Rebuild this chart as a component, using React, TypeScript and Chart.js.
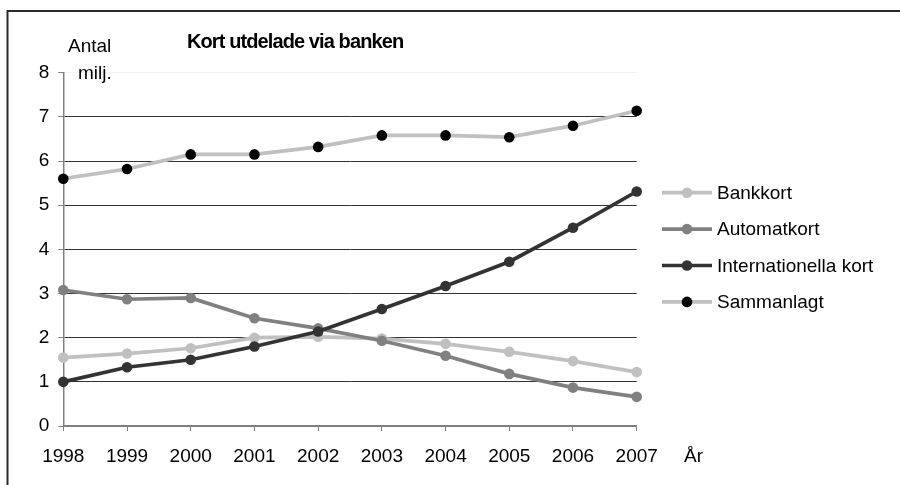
import React, { useEffect, useRef } from "react";
import { Chart, registerables } from "chart.js";

Chart.register(...registerables);

const years = ["1998", "1999", "2000", "2001", "2002", "2003", "2004", "2005", "2006", "2007"];
const bankkort = [1.55, 1.64, 1.76, 2.0, 2.02, 1.98, 1.86, 1.68, 1.47, 1.22];
const automatkort = [3.08, 2.87, 2.9, 2.44, 2.21, 1.93, 1.59, 1.18, 0.87, 0.66];
const internationella = [1.0, 1.33, 1.5, 1.8, 2.14, 2.65, 3.17, 3.72, 4.49, 5.31];
const sammanlagt = [5.6, 5.82, 6.15, 6.15, 6.32, 6.58, 6.58, 6.54, 6.8, 7.14];
const seriesNames = ["Bankkort", "Automatkort", "Internationella kort", "Sammanlagt"];
const yMin = 0;
const yMax = 8;
const yStep = 1;

const FONT = '"Liberation Sans", Arial, Helvetica, sans-serif';

const decorPlugin = {
  id: "decor",
  afterDraw(chart: any) {
    const ctx = chart.ctx as CanvasRenderingContext2D;
    ctx.save();
    // frame
    ctx.strokeStyle = "#2a2a2a";
    ctx.lineWidth = 2;
    ctx.beginPath();
    ctx.moveTo(7.5, 485);
    ctx.lineTo(7.5, 11);
    ctx.lineTo(900, 11);
    ctx.stroke();

    ctx.fillStyle = "#000";
    ctx.textBaseline = "alphabetic";
    ctx.textAlign = "left";
    ctx.font = `bold 20px ${FONT}`;
    (ctx as any).letterSpacing = "-0.9px";
    ctx.fillText("Kort utdelade via banken", 187, 48);
    (ctx as any).letterSpacing = "0px";
    ctx.font = `19px ${FONT}`;
    ctx.fillText("Antal", 68, 52);
    ctx.fillText("milj.", 78, 79);
    ctx.fillText("År", 684, 462);

    // legend
    const ds = chart.data.datasets;
    ds.forEach((d: any, i: number) => {
      const y = 192.7 + i * 36.4;
      ctx.strokeStyle = d.borderColor;
      ctx.lineWidth = d.borderWidth;
      ctx.beginPath();
      ctx.moveTo(662, y);
      ctx.lineTo(712, y);
      ctx.stroke();
      ctx.fillStyle = d.pointBackgroundColor;
      ctx.beginPath();
      ctx.arc(687, y, d.pointRadius, 0, Math.PI * 2);
      ctx.fill();
      ctx.fillStyle = "#000";
      ctx.font = `19px ${FONT}`;
      ctx.textBaseline = "middle";
      ctx.fillText(d.label, 717, y + 1);
    });
    ctx.restore();
  },
};

export default function App() {
  const ref = useRef<HTMLCanvasElement>(null);
  useEffect(() => {
    if (!ref.current) return;
    const mk = (label: string, data: number[], line: string, pt: string, order: number) => ({
      label,
      data,
      borderColor: line,
      backgroundColor: pt,
      pointBackgroundColor: pt,
      pointBorderColor: pt,
      pointRadius: 5.3,
      pointBorderWidth: 0,
      borderWidth: 3.7,
      tension: 0,
      clip: false as any,
      order,
    });
    const chart = new Chart(ref.current, {
      type: "line",
      data: {
        labels: years,
        datasets: [
          mk(seriesNames[0], bankkort, "#c0c0c0", "#c0c0c0", 4),
          mk(seriesNames[1], automatkort, "#808080", "#808080", 3),
          mk(seriesNames[2], internationella, "#333333", "#333333", 2),
          mk(seriesNames[3], sammanlagt, "#c0c0c0", "#000000", 1),
        ],
      },
      options: {
        animation: false,
        responsive: false,
        maintainAspectRatio: false,
        layout: { padding: { left: 0, right: 263.3, top: 72.7, bottom: 10 } },
        plugins: {
          legend: { display: false },
          title: { display: false },
          tooltip: { enabled: false },
        },
        scales: {
          x: {
            type: "category",
            offset: false,
            grid: {
              drawOnChartArea: false,
              drawTicks: true,
              tickLength: 5,
              tickColor: "#808080",
            },
            border: { color: "#808080", width: 1.5 },
            ticks: {
              color: "#000",
              font: { family: FONT, size: 19 },
              padding: 14,
              maxRotation: 0,
              autoSkip: false,
            },
            afterFit: (s: any) => {
              s.height = 49;
            },
          },
          y: {
            min: yMin,
            max: yMax,
            grid: {
              color: (c: any) =>
                c.tick && c.tick.value === 8 ? "#f2f2f2" : c.tick && c.tick.value === 0 ? "#808080" : "#333333",
              drawTicks: true,
              tickLength: 5,
              tickColor: "#808080",
              lineWidth: 1,
            },
            border: { color: "#808080", width: 1.5 },
            ticks: {
              stepSize: yStep,
              color: "#000",
              font: { family: FONT, size: 19 },
              padding: 9,
            },
            afterFit: (s: any) => {
              s.width = 63.3;
            },
          },
        },
      },
      plugins: [decorPlugin],
    });
    return () => chart.destroy();
  }, []);
  return (
    <canvas
      ref={ref}
      width={900}
      height={485}
      style={{ position: "fixed", left: 0, top: 0, width: 900, height: 485, background: "#fff" }}
    />
  );
}
